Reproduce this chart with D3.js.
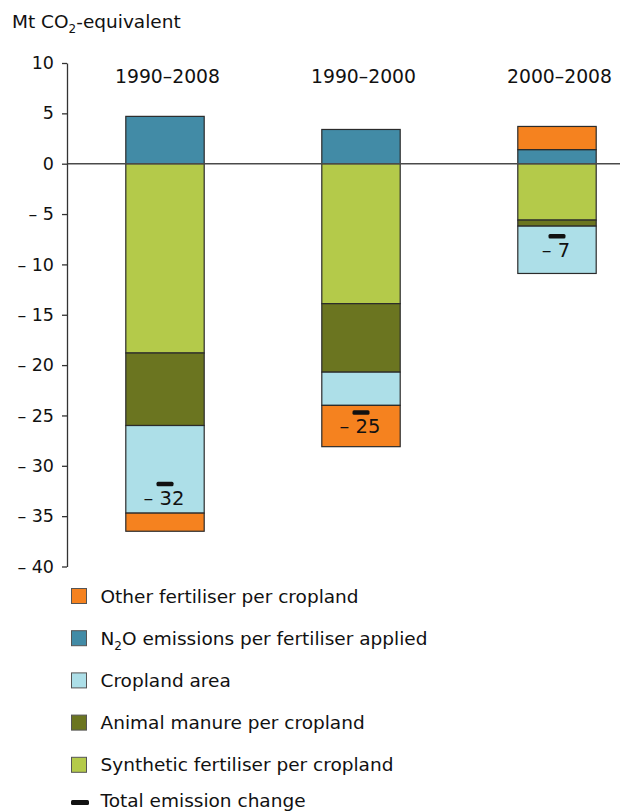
<!DOCTYPE html>
<html>
<head>
<meta charset="utf-8">
<script src="https://cdn.jsdelivr.net/npm/d3@7"></script>
<style>
  html, body { margin: 0; padding: 0; background: #fff; }
  svg { display: block; font-family: "DejaVu Sans", Verdana, sans-serif; }
</style>
</head>
<body>
<svg id="chart" width="620" height="811"></svg>
<script>
// ---- data ----
const categories = ["1990–2008", "1990–2000", "2000–2008"];
const seriesKeys = ["n2o", "synthetic", "manure", "cropland", "other"];
const n2oValues       = [4.7, 3.4, 1.4];
const syntheticValues = [-18.8, -13.9, -5.6];
const manureValues    = [-7.2, -6.8, -0.6];
const croplandValues  = [-8.7, -3.3, -4.7];
const otherValues     = [-1.8, -4.1, 2.3];
const totalValues     = [-31.8, -24.7, -7.2];
const totalLabels     = ["32", "25", "7"];
const yTicks = [10, 5, 0, -5, -10, -15, -20, -25, -30, -35, -40];

const legendItems = [
  { key: "other", label: "Other fertiliser per cropland" },
  { key: "n2o", label: "N2O emissions per fertiliser applied" },
  { key: "cropland", label: "Cropland area" },
  { key: "manure", label: "Animal manure per cropland" },
  { key: "synthetic", label: "Synthetic fertiliser per cropland" }
];

const colors = {
  other: "#f5821f",
  n2o: "#428ba6",
  cropland: "#addfe8",
  manure: "#6b7520",
  synthetic: "#b4ca4a"
};

// ---- build table ----
const table = categories.map((c, i) => ({
  cat: c,
  n2o: n2oValues[i],
  synthetic: syntheticValues[i],
  manure: manureValues[i],
  cropland: croplandValues[i],
  other: otherValues[i],
  total: totalValues[i],
  totalLabel: totalLabels[i]
}));

const svg = d3.select("#chart");

const y = d3.scaleLinear().domain([-40, 10]).range([566.5, 63]);
const x = d3.scaleBand().domain(categories).range([67, 655]).paddingInner(0.6).paddingOuter(0.3);

const stack = d3.stack().keys(seriesKeys).offset(d3.stackOffsetDiverging).order(d3.stackOrderNone);
const stacked = stack(table);

// bars
const gBars = svg.append("g");
gBars.selectAll("g.series")
  .data(stacked)
  .join("g")
  .attr("class", "series")
  .attr("fill", d => colors[d.key])
  .selectAll("rect")
  .data(d => d)
  .join("rect")
  .attr("x", d => x(d.data.cat))
  .attr("width", x.bandwidth())
  .attr("y", d => y(Math.max(d[0], d[1])))
  .attr("height", d => Math.abs(y(d[0]) - y(d[1])))
  .attr("stroke", "#2b2b2b")
  .attr("stroke-width", 1.2);

// zero line
svg.append("line")
  .attr("x1", 67).attr("x2", 620)
  .attr("y1", y(0)).attr("y2", y(0))
  .attr("stroke", "#4a4a4a").attr("stroke-width", 1.5);

// y axis
const yAxis = d3.axisLeft(y)
  .tickValues(yTicks)
  .tickSizeInner(5)
  .tickSizeOuter(0)
  .tickPadding(8)
  .tickFormat(d => d < 0 ? "– " + Math.abs(d) : String(d));
const gy = svg.append("g").attr("transform", "translate(67,0)").call(yAxis);
gy.select(".domain").attr("stroke", "#333").attr("stroke-width", 1.3);
gy.selectAll(".tick line").attr("stroke", "#333").attr("stroke-width", 1.3);
gy.selectAll(".tick text").attr("font-size", "17.5px").attr("fill", "#111")
  .attr("font-family", "DejaVu Sans, Verdana, sans-serif");

// y title
const title = svg.append("text").attr("x", 12).attr("y", 28)
  .attr("font-size", "18.5px").attr("fill", "#111");
title.append("tspan").text("Mt CO");
title.append("tspan").attr("font-size", "12px").attr("dy", 5).text("2");
title.append("tspan").attr("dy", -5).text("-equivalent");

// category labels
svg.selectAll("text.cat")
  .data(categories)
  .join("text")
  .attr("class", "cat")
  .attr("x", d => x(d) + x.bandwidth() / 2 + 2.5)
  .attr("y", 83)
  .attr("text-anchor", "middle")
  .attr("font-size", "18.8px")
  .attr("fill", "#111")
  .text(d => d);

// total markers
svg.selectAll("rect.total")
  .data(table)
  .join("rect")
  .attr("class", "total")
  .attr("x", d => x(d.cat) + x.bandwidth() / 2 - 8.5)
  .attr("y", d => y(d.total) - 2.25)
  .attr("width", 17)
  .attr("height", 4.5)
  .attr("rx", 1.5)
  .attr("fill", "#111");

svg.selectAll("text.totalLabel")
  .data(table)
  .join("text")
  .attr("class", "totalLabel")
  .attr("x", d => x(d.cat) + x.bandwidth() / 2 - 1)
  .attr("y", d => y(d.total) + 21)
  .attr("text-anchor", "middle")
  .attr("font-size", "19.5px")
  .attr("fill", "#111")
  .text(d => "– " + d.totalLabel);

// legend
const legendY0 = 596;
const legendStep = 42.2;
const lg = svg.append("g");
legendItems.forEach((item, i) => {
  const cy = legendY0 + i * legendStep;
  lg.append("rect")
    .attr("x", 71.5).attr("y", cy - 7.5)
    .attr("width", 15).attr("height", 15)
    .attr("fill", colors[item.key])
    .attr("stroke", "#555").attr("stroke-width", 1);
  const t = lg.append("text").attr("x", 100.5).attr("y", cy + 6.5)
    .attr("font-size", "18.5px").attr("fill", "#111");
  if (item.key === "n2o") {
    t.append("tspan").text("N");
    t.append("tspan").attr("font-size", "12px").attr("dy", 5).text("2");
    t.append("tspan").attr("dy", -5).text("O emissions per fertiliser applied");
  } else {
    t.text(item.label);
  }
});
// total legend entry
lg.append("rect").attr("x", 71).attr("y", 800).attr("width", 18).attr("height", 5)
  .attr("rx", 1.5).attr("fill", "#111");
lg.append("text").attr("x", 100.5).attr("y", 807)
  .attr("font-size", "18.5px").attr("fill", "#111").text("Total emission change");
</script>
</body>
</html>
